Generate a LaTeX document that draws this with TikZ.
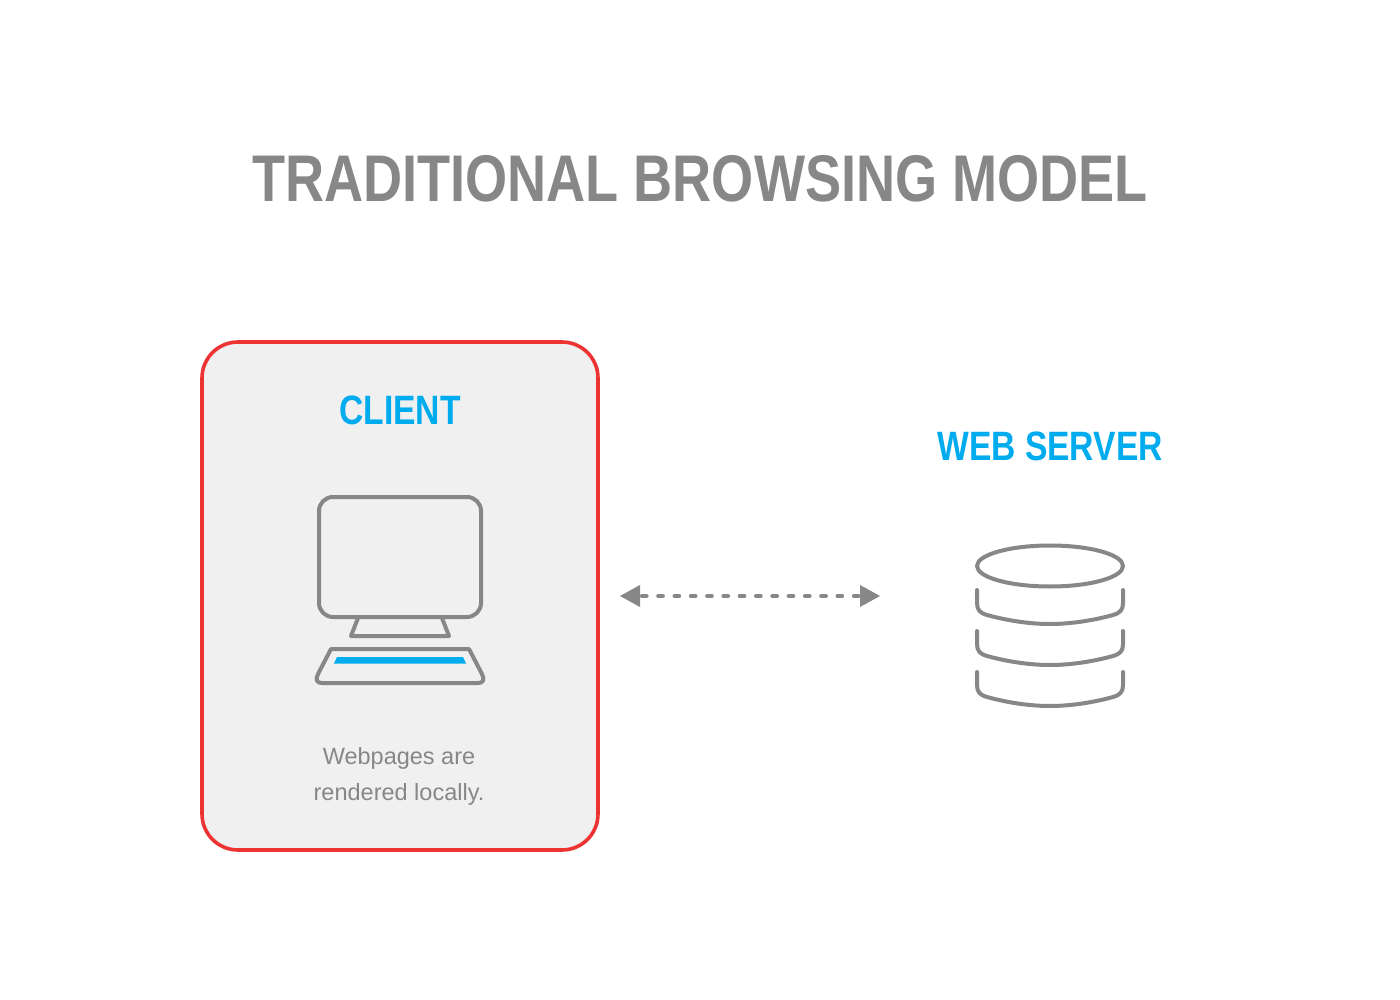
\documentclass[tikz,border=0pt]{standalone}
\usepackage{fontspec}
\setmainfont{Liberation Sans}
\newfontfamily\headfont[FakeStretch=0.82]{Liberation Sans}
\definecolor{greyc}{HTML}{878787}
\definecolor{bluec}{HTML}{00ABEE}
\definecolor{redc}{HTML}{EE3333}
\definecolor{panelc}{HTML}{F0F0F0}
\tikzset{x=1pt,y=-1pt,
 icon/.style={draw=greyc,line width=4pt,line join=round,line cap=round},
 head/.style={text=bluec,font=\headfont\bfseries\fontsize{41}{48}\selectfont,inner sep=0pt,anchor=center}}
\begin{document}
\begin{tikzpicture}
\useasboundingbox (0,0) rectangle (1400,1000);
\fill[white] (0,0) rectangle (1400,1000);
\node[text=greyc,font=\headfont\bfseries\fontsize{66}{72}\selectfont,inner sep=0pt] (title) at (700,179) {TRADITIONAL BROWSING MODEL};
\draw[draw=redc,fill=panelc,line width=3.6pt,rounded corners=36pt] (202,342) rectangle (598,850);
\node[head] (client) at (400,410) {CLIENT};
\node[head] (server) at (1050,446) {WEB SERVER};
\draw[icon,rounded corners=14pt] (319,497) rectangle (481,617);
\draw[icon] (358,618) -- (351,636) -- (449,636) -- (442,618);
\draw[icon] (331,649) -- (469,649) -- (482,674) .. controls (485,680) and (483,683) .. (478,683) -- (322,683) .. controls (317,683) and (315,680) .. (318,674) -- cycle;
\fill[bluec] (337,657) -- (463,657) -- (466,663.5) -- (334,663.5) -- cycle;
\node[text=greyc,font=\fontsize{23.5}{36}\selectfont,align=center,inner sep=0pt] (note) at (399,776) {Webpages are\\rendered locally.};
\draw[icon] (1050,566) ellipse [x radius=73,y radius=20.5];
\foreach \y in {590,631,672}{
 \draw[icon] (977,\y) -- (977,{\y+13}) .. controls (977,{\y+20}) and (980,{\y+23}) .. (987,{\y+25}) .. controls (1005,{\y+30}) and (1028,{\y+34}) .. (1050,{\y+34}) .. controls (1072,{\y+34}) and (1095,{\y+30}) .. (1113,{\y+25}) .. controls (1120,{\y+23}) and (1123,{\y+20}) .. (1123,{\y+13}) -- (1123,\y);
}
\coordinate (la) at (640,596);
\coordinate (ra) at (860,596);
\draw[draw=greyc,line width=4.2pt,line cap=round,dash pattern=on 4.5pt off 11.8pt,dash phase=-2pt] (la) -- (ra);
\fill[greyc] (620,596) -- (640,585) -- (640,607) -- cycle;
\fill[greyc] (880,596) -- (860,585) -- (860,607) -- cycle;
\end{tikzpicture}
\end{document}
